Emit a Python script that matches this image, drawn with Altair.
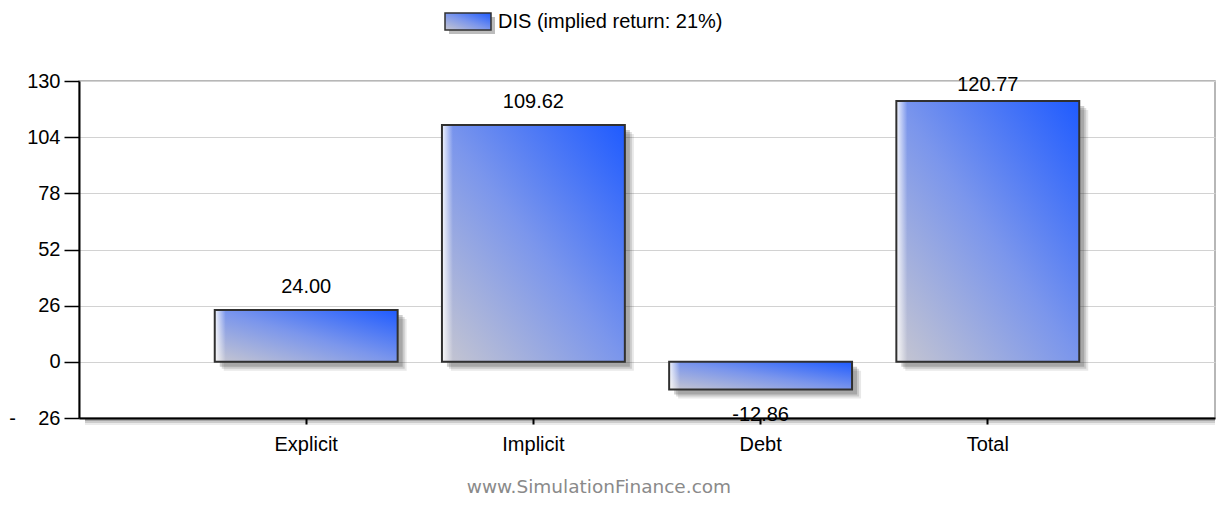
import altair as alt
import pandas as pd

# ---- data ----
categories = ["Explicit", "Implicit", "Debt", "Total"]
values = [24.00, 109.62, -12.86, 120.77]
value_labels = ["24.00", "109.62", "-12.86", "120.77"]
y_ticks = [-26, 0, 26, 52, 78, 104, 130]
series_name = "DIS (implied return: 21%)"
watermark = "www.SimulationFinance.com"

df = pd.DataFrame({"category": categories, "value": values, "label": value_labels})
one = pd.DataFrame({"k": [0]})

W, H = 1136, 337
FONT = "Liberation Sans"

bar_fill = alt.Gradient(
    gradient="linear", x1=0, y1=1, x2=1, y2=0,
    stops=[alt.GradientStop(offset=0, color="#c6c6d0"),
           alt.GradientStop(offset=0.5, color="#7b96ec"),
           alt.GradientStop(offset=1, color="#1f5bff")])
edge_light = alt.Gradient(
    gradient="linear", x1=0, y1=0, x2=1, y2=0,
    stops=[alt.GradientStop(offset=0, color="rgba(255,255,255,0.9)"),
           alt.GradientStop(offset=0.06, color="rgba(255,255,255,0)"),
           alt.GradientStop(offset=1, color="rgba(255,255,255,0)")])

x_axis = alt.Axis(title=None, labelFont=FONT, labelFontSize=20, labelColor="#000",
                  labelPadding=10, tickSize=6, tickColor="#000", tickWidth=2,
                  domainColor="#000", domainWidth=2, labelAngle=0, grid=False)
y_axis = alt.Axis(title=None, values=y_ticks, labelFont=FONT, labelFontSize=20,
                  labelColor="#000", labelPadding=4, tickSize=15, tickColor="#000",
                  tickWidth=1.5, domainColor="#000", domainWidth=2,
                  gridColor="#d2d2d2", gridWidth=1,
                  labelExpr="datum.value < 0 ? '-\u00a0\u00a0\u00a0\u00a0' + abs(datum.value) : datum.label")

x_enc = alt.X("category:N", sort=categories,
              scale=alt.Scale(paddingInner=0.195, paddingOuter=0.5975), axis=x_axis)
y_scale = alt.Scale(domain=[-26, 130], nice=False, zero=False)
y_enc = alt.Y("value:Q", scale=y_scale, axis=y_axis)

base = alt.Chart(df)

shadows = [
    base.mark_bar(color="#404040", opacity=0.12, xOffset=9, yOffset=9).encode(x=x_enc, y=y_enc),
    base.mark_bar(color="#404040", opacity=0.18, xOffset=7, yOffset=7).encode(x=x_enc, y=y_enc),
    base.mark_bar(color="#404040", opacity=0.25, xOffset=5, yOffset=5).encode(x=x_enc, y=y_enc),
]
bars = base.mark_bar(fill=bar_fill).encode(x=x_enc, y=y_enc)
bars_light = base.mark_bar(fill=edge_light).encode(x=x_enc, y=y_enc)
bars_edge = base.mark_bar(fillOpacity=0, stroke="#303030", strokeWidth=2).encode(x=x_enc, y=y_enc)

labels = base.transform_calculate(
    lab="datum.value >= 0 ? min(datum.value + 8, 125.5) : datum.value - 14.5"
).mark_text(font=FONT, fontSize=20, color="#000", baseline="alphabetic").encode(
    x=x_enc, y=alt.Y("lab:Q", scale=y_scale, axis=y_axis), text="label:N")

# shadow under the bottom axis line
ax_shadow = [
    alt.Chart(one).mark_rule(color="#000", opacity=op, strokeWidth=2).encode(
        x=alt.value(6), x2=alt.value(W), y=alt.value(H + dy))
    for dy, op in [(2, 0.35), (4, 0.2), (6, 0.08)]
]

# legend (top centre)
leg_shadow = alt.Chart(one).mark_rect(color="#404040", opacity=0.35).encode(
    x=alt.value(370), x2=alt.value(416), y=alt.value(-64), y2=alt.value(-47))
leg_swatch = alt.Chart(one).mark_rect(fill=bar_fill, stroke="#303030", strokeWidth=1.5).encode(
    x=alt.value(366), x2=alt.value(412), y=alt.value(-68), y2=alt.value(-51))
leg_text = alt.Chart(one).mark_text(font=FONT, fontSize=20, color="#000", align="left",
                                    baseline="middle", text=series_name).encode(
    x=alt.value(419), y=alt.value(-59))

wm = alt.Chart(one).mark_text(font="DejaVu Sans", fontSize=18.5, color="#8a8a8a",
                              align="center", baseline="middle", text=watermark).encode(
    x=alt.value(520), y=alt.value(406))

chart = alt.layer(
    *shadows, bars, bars_light, bars_edge, labels, *ax_shadow,
    leg_shadow, leg_swatch, leg_text, wm
).properties(
    width=W, height=H,
    autosize=alt.AutoSizeParams(type="none"),
    padding={"left": 79, "top": 81, "right": 2, "bottom": 98},
    background="#ffffff",
).configure_view(stroke="#a0a0a0", strokeWidth=1.5)

chart.save("out.html", embed_options={"renderer": "svg", "actions": False})
